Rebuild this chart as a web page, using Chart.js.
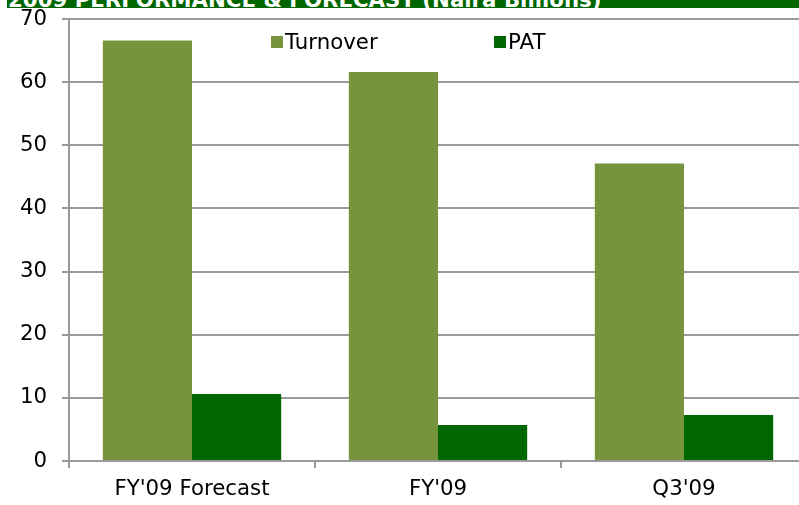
<!DOCTYPE html>
<html>
<head>
<meta charset="utf-8">
<script src="https://cdn.jsdelivr.net/npm/chart.js@4.4.1/dist/chart.umd.min.js"></script>
<style>
  html, body { margin: 0; padding: 0; background: #fff; overflow: hidden; }
  #wrap { position: relative; width: 808px; height: 505px; }
  #titleBar {
    position: absolute; left: 7px; top: 0; width: 801px; height: 8px;
    background: #006600; overflow: hidden; z-index: 2;
  }
  #titleBar span {
    position: absolute; left: 1px; top: -11px;
    font: bold 21.3px/21.3px "DejaVu Sans", sans-serif; color: #fff; white-space: nowrap;
  }
</style>
</head>
<body>
<div id="wrap">
  <div id="titleBar"><span>2009 PERFORMANCE &amp; FORECAST (Naira Billions)</span></div>
  <canvas id="myChart" width="808" height="505"></canvas>
</div>
<script>
'use strict';
let categories = ["FY'09 Forecast", "FY'09", "Q3'09"];
let turnover = [66.6, 61.6, 47.1];
let pat = [10.6, 5.7, 7.3];
let yTicks = [0, 10, 20, 30, 40, 50, 60, 70];

let fontFamily = '"DejaVu Sans", Verdana, sans-serif';
let fontSize = 21.3;

// legend sits inside the plot area, so draw it by hand
let innerLegend = {
  id: 'innerLegend',
  afterDraw(chart) {
    let ctx = chart.ctx;
    let spots = [271, 494];
    ctx.save();
    ctx.font = fontSize + 'px ' + fontFamily;
    ctx.textBaseline = 'middle';
    chart.data.datasets.forEach(function (ds, i) {
      ctx.fillStyle = ds.backgroundColor;
      ctx.fillRect(spots[i], 36, 12, 12);
      ctx.fillStyle = '#000';
      ctx.fillText(ds.label, spots[i] + 14, 43);
    });
    ctx.restore();
  }
};

let ctx = document.getElementById('myChart').getContext('2d');
let myChart = new Chart(ctx, {
  type: 'bar',
  data: {
    labels: categories,
    datasets: [{
      label: 'Turnover',
      data: turnover,
      backgroundColor: '#77933C',
      borderWidth: 0
    }, {
      label: 'PAT',
      data: pat,
      backgroundColor: '#006600',
      borderWidth: 0
    }]
  },
  options: {
    responsive: false,
    animation: false,
    layout: { padding: { top: 19, right: 1, left: 0, bottom: 0 } },
    categoryPercentage: 0.725,
    barPercentage: 1,
    plugins: {
      legend: { display: false },
      tooltip: { enabled: false }
    },
    scales: {
      x: {
        grid: { display: true, drawOnChartArea: false, offset: true, color: '#999', lineWidth: 2, tickLength: 7 },
        border: { display: true, color: '#999', width: 2 },
        ticks: { color: '#000', font: { family: fontFamily, size: fontSize }, padding: 9, maxRotation: 0 },
        afterFit(scale) { scale.height = 44; }
      },
      y: {
        min: 0,
        max: 70,
        afterBuildTicks(scale) { scale.ticks = yTicks.map(v => ({ value: v })); },
        grid: { color: '#999', lineWidth: 2, tickLength: 7 },
        border: { display: true, color: '#999', width: 2 },
        ticks: { color: '#000', font: { family: fontFamily, size: fontSize }, padding: 15 },
        afterFit(scale) {
          scale.width = 69;
          scale.paddingTop = 0;
          scale.paddingBottom = 0;
        }
      }
    }
  },
  plugins: [innerLegend]
});
</script>
</body>
</html>
